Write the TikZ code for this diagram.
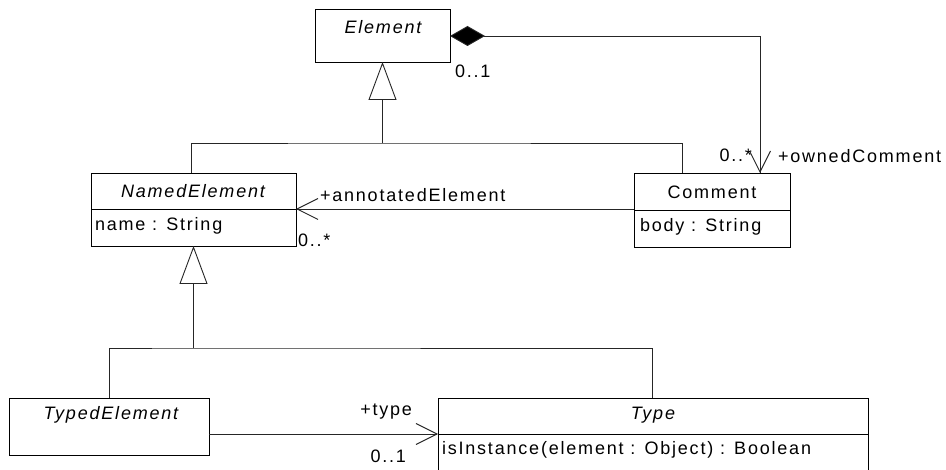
\documentclass[tikz,border=0pt]{standalone}
\usepackage{fontspec}
\setmainfont{Liberation Sans}[LetterSpace=10]
\usetikzlibrary{arrows.meta}
\tikzset{
  box/.style={draw=black, line width=0.9pt, rectangle, inner sep=0pt, outer sep=0pt},
  conn/.style={draw=black!85, line width=0.9pt},
  lbl/.style={inner sep=0pt, outer sep=0pt, font=\fontsize{18}{20}\selectfont},
  ttl/.style={inner sep=0pt, outer sep=0pt, font=\fontsize{18}{20}\selectfont\itshape},
  gen/.style={conn, -{Triangle[open, length=38pt, width=28pt, fill=white]}},
  nav/.style={conn, -{Straight Barb[length=21pt, width=21pt, line width=0.9pt]}},
  comp/.style={conn, {Diamond[length=35pt, width=20pt, fill=black]}-},
}
\begin{document}
\begin{tikzpicture}[x=1pt, y=-1pt]
\useasboundingbox (0,0) rectangle (946,470);
% class boxes
\node[box, minimum width=135pt, minimum height=53pt] (el) at (382.5,35.5) {};
\node[ttl] (elt) at (383,27) {Element};
\node[box, minimum width=205pt, minimum height=73pt] (ne) at (193.5,209.5) {};
\node[ttl] (net) at (193,191) {NamedElement};
\node[lbl, anchor=west] (nea) at (95,226) {name : String};
\node[box, minimum width=156pt, minimum height=74pt] (cm) at (712,210) {};
\node[lbl] (cmt) at (712,192) {Comment};
\node[lbl, anchor=west] (cma) at (640,227) {body : String};
\node[box, minimum width=200pt, minimum height=57pt] (te) at (109,426.5) {};
\node[ttl] (tet) at (111,415) {TypedElement};
\node[box, minimum width=430pt, minimum height=76pt] (ty) at (653,436) {};
\node[ttl] (tyt) at (653,415) {Type};
\node[lbl, anchor=west] (tyo) at (442,450) {isInstance(element : Object) : Boolean};
% compartment dividers
\draw[box] (ne.west) -- (ne.east);
\draw[box] (cm.west) -- (cm.east);
\coordinate (tyl) at (ty.west |- 0,434);
\coordinate (tyr) at (ty.east |- 0,434);
\draw[box] (tyl) -- (tyr);
% generalization Element
\coordinate (j1) at (382.5,143);
\draw[gen] (j1) -- (el.south);
\draw[conn] (ne.north -| 191,0) |- (j1) -| (cm.north -| 682,0);
% generalization NamedElement
\coordinate (j2) at (193.5,348);
\draw[gen] (j2) -- (ne.south);
\draw[conn] (te.north -| 109,0) |- (j2) -| (ty.north -| 652,0);
% composition Element -> Comment
\coordinate (c2) at (760,36);
\draw[comp] (el.east |- c2) -- (c2) -- (cm.north -| c2);
\draw[nav] (c2) -- (cm.north -| c2);
% annotatedElement
\draw[nav] (cm.west |- 0,209) -- (ne.east |- 0,209);
% type
\draw[nav] (te.east |- 0,434) -- (tyl);
% labels
\node[lbl, anchor=west] (m1) at (455,71) {0..1};
\node[lbl, anchor=east] (m2) at (752,155) {0..*};
\node[lbl, anchor=west] (r2) at (778,156) {+ownedComment};
\node[lbl, anchor=west] (r3) at (320,195) {+annotatedElement};
\node[lbl, anchor=west] (m3) at (298,240) {0..*};
\node[lbl, anchor=east] (r4) at (412,412) {+type};
\node[lbl, anchor=east] (m4) at (406,456) {0..1};
\end{tikzpicture}
\end{document}
